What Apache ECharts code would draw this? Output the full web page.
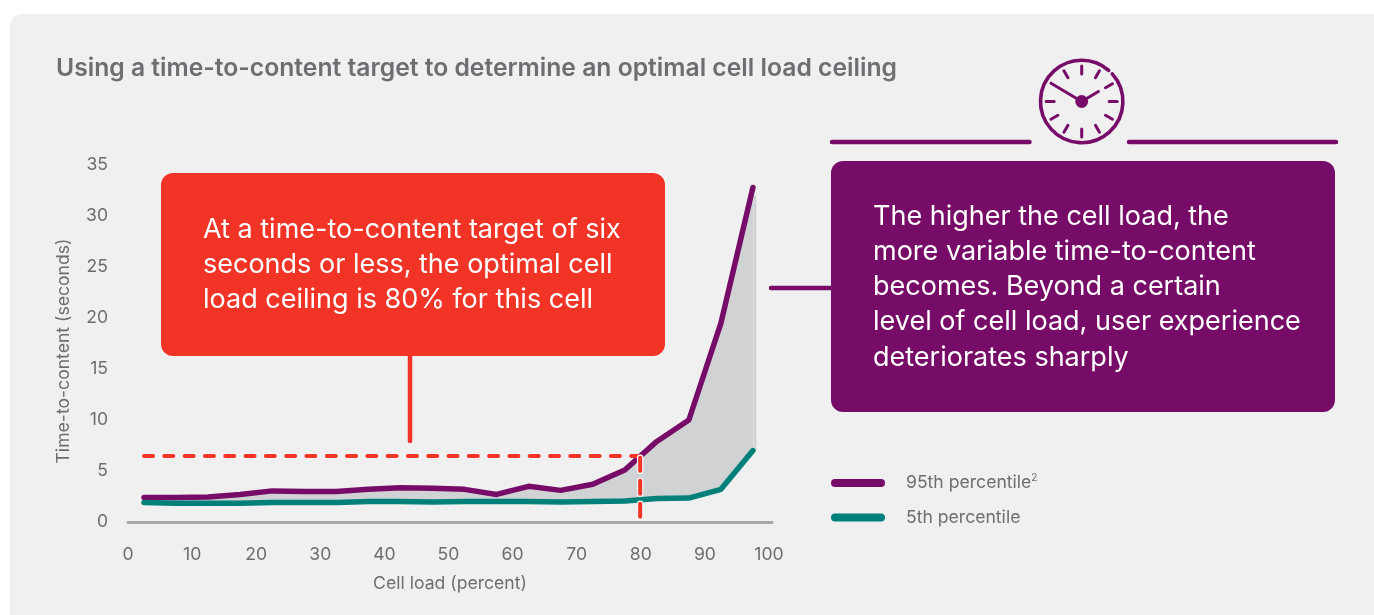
<!DOCTYPE html>
<html>
<head>
<meta charset="utf-8">
<style>html,body{margin:0;padding:0;background:#fff}#c{width:1374px;height:615px}</style>
<script src="https://cdn.jsdelivr.net/npm/echarts@6/dist/echarts.min.js"></script>
</head>
<body>
<div id="c"></div>
<script>
const cellLoad = [2.5,7.5,12.5,17.5,22.5,27.5,32.5,37.5,42.5,47.5,52.5,57.5,62.5,67.5,72.5,77.5,82.5,87.5,92.5,97.5];
const p95 = [2.4,2.4,2.45,2.7,3.05,3.0,3.0,3.2,3.35,3.3,3.2,2.7,3.5,3.1,3.7,5.1,7.9,10,19.5,32.8];
const p5 = [1.9,1.85,1.85,1.85,1.9,1.9,1.9,2.0,2.0,1.95,2.0,2.0,2.0,1.95,2.0,2.05,2.3,2.35,3.2,7.0];
const targetH = [[2.5,6.47],[79.9,6.47]];
const targetV = [[79.9,6.3],[79.9,0.2]];
const bandEdge = [[97.8,7],[97.8,32]];
const titleText = 'Using a time-to-content target to determine an optimal cell load ceiling';
const redText = 'At a time-to-content target of six\nseconds or less, the optimal cell\nload ceiling is 80% for this cell';
const purpleText = 'The higher the cell load, the\nmore variable time-to-content\nbecomes. Beyond a certain\nlevel of cell load, user experience\ndeteriorates sharply';
const xName = 'Cell load (percent)';
const yName = 'Time-to-content (seconds)';

const PURPLE='#760c68', TEAL='#00807a', RED='#f23427', BAND='#d1d2d4', BG='#f0f0f0', TXT='#6d6e71', AXIS='#a7a8aa';
const FONT='Inter, "Liberation Sans", Arial, sans-serif';
const pair = (xs, ys) => xs.map((x,i)=>[x,ys[i]]);

const CX=1081.7, CY=101.5;
const rule=(x1,y1,x2,y2,w,c,z)=>({type:'line',z:z||10,silent:true,shape:{x1,y1,x2,y2},style:{stroke:c,lineWidth:w,lineCap:'round'}});
const clock=[
  {type:'arc',z:10,silent:true,shape:{cx:CX,cy:CY,r:41.2,startAngle:-0.735,endAngle:5.426,clockwise:true},style:{stroke:PURPLE,lineWidth:3.6,fill:'none',lineCap:'round'}},
  {type:'circle',z:10,silent:true,shape:{cx:CX,cy:CY,r:6.4},style:{fill:PURPLE}},
  rule(CX,CY,CX-30.7,CY-18.3,3,PURPLE),
  rule(CX,CY,CX+16.7,CY-10,3,PURPLE)
];
[0,1,2,3,4,5,6,7,8,9,11].forEach(h=>{
  const a=h*Math.PI/6, s=Math.sin(a), c=Math.cos(a);
  clock.push(rule(CX+s*27.5,CY-c*27.5,CX+s*35.5,CY-c*35.5,3,PURPLE));
});

const chart=echarts.init(document.getElementById('c'),null,{renderer:'canvas'});
chart.setOption({
  animation:false,
  backgroundColor:'#ffffff',
  textStyle:{fontFamily:FONT},
  grid:{left:128,top:165,width:644,height:357,containLabel:false},
  xAxis:{type:'value',min:0,max:100.47,interval:10,z:3,
    name:xName,nameLocation:'middle',nameGap:53,nameTextStyle:{color:TXT,fontSize:17.6,fontFamily:FONT},
    axisLine:{show:true,onZero:false,lineStyle:{color:AXIS,width:3}},axisTick:{show:false},splitLine:{show:false},
    axisLabel:{color:TXT,fontSize:17.6,margin:24,fontFamily:FONT,showMaxLabel:true,formatter:v=>v%10===0?String(v):''}},
  yAxis:{type:'value',min:0,max:35,interval:5,
    name:yName,nameLocation:'middle',nameGap:55,nameRotate:90,nameTextStyle:{color:TXT,fontSize:17.6,fontFamily:FONT,padding:[0,15,0,0]},
    axisLine:{show:false},axisTick:{show:false},splitLine:{show:false},
    axisLabel:{color:TXT,fontSize:17.6,margin:20,padding:[2,0,0,0],fontFamily:FONT}},
  legend:{show:true,orient:'vertical',left:831,top:473,padding:0,itemWidth:54,itemHeight:8,itemGap:14.4,
    icon:'path://M4 0H50A4 4 0 0 1 50 8H4A4 4 0 0 1 4 0Z',selectedMode:false,data:['95th','5th'],
    formatter:n=>n==='95th'?'95th percentile{sup|2}':'5th percentile',
    textStyle:{color:TXT,fontSize:17.6,padding:[0,0,0,16],lineHeight:20,fontFamily:FONT,
      rich:{sup:{fontSize:10,color:TXT,verticalAlign:'top',lineHeight:20,fontFamily:FONT}}}},
  series:[
    {type:'line',name:'band95',data:pair(cellLoad,p95),symbol:'none',silent:true,z:2,lineStyle:{width:0},areaStyle:{color:BAND,opacity:1}},
    {type:'line',name:'bandEdge',data:bandEdge,symbol:'none',silent:true,z:2,lineStyle:{width:3,color:BAND}},
    {type:'line',name:'band5',data:pair(cellLoad,p5),symbol:'none',silent:true,z:2,lineStyle:{width:0},areaStyle:{color:BG,opacity:1}},
    {type:'line',name:'95th',data:pair(cellLoad,p95),symbol:'none',silent:true,z:4,itemStyle:{color:PURPLE},lineStyle:{color:PURPLE,width:5.5,cap:'round',join:'round'}},
    {type:'line',name:'5th',data:pair(cellLoad,p5),symbol:'none',silent:true,z:4,itemStyle:{color:TEAL},lineStyle:{color:TEAL,width:5.5,cap:'round',join:'round'}},
    {type:'line',name:'targetH',data:targetH,symbol:'none',silent:true,z:5,lineStyle:{color:RED,width:4,type:[9,11.3],cap:'round'}},
    {type:'line',name:'targetVHalo',data:targetV,symbol:'none',silent:true,z:5,lineStyle:{color:'#f5f5f5',width:6.5,type:[13,10],cap:'round'}},
    {type:'line',name:'targetV',data:targetV,symbol:'none',silent:true,z:5,lineStyle:{color:RED,width:4,type:[13,10],cap:'round'}}
  ],
  graphic:[
    {type:'rect',z:-10,silent:true,shape:{x:10,y:14,width:1400,height:640,r:12},style:{fill:BG}},
    {type:'text',z:10,silent:true,x:56,y:69,style:{text:titleText,fill:TXT,font:'600 24.7px '+FONT,verticalAlign:'middle'}},
    {type:'rect',z:8,silent:true,shape:{x:161,y:173,width:504,height:183,r:12},style:{fill:RED}},
    rule(410,356,410,441,4.5,RED,8),
    {type:'text',z:10,silent:true,x:203,y:212,style:{text:redText,fill:'#ffffff',font:'400 27px '+FONT,lineHeight:35,verticalAlign:'top'}},
    {type:'rect',z:8,silent:true,shape:{x:831,y:161,width:504,height:251,r:12},style:{fill:PURPLE}},
    rule(771,288,831,288,4.5,PURPLE,8),
    {type:'text',z:10,silent:true,x:873,y:199,style:{text:purpleText,fill:'#ffffff',font:'400 27px '+FONT,lineHeight:35.2,verticalAlign:'top'}},
    rule(832,142,1029.5,142,4.5,PURPLE),
    rule(1129,142,1336,142,4.5,PURPLE),
    ...clock
  ]
});
</script>
</body>
</html>
